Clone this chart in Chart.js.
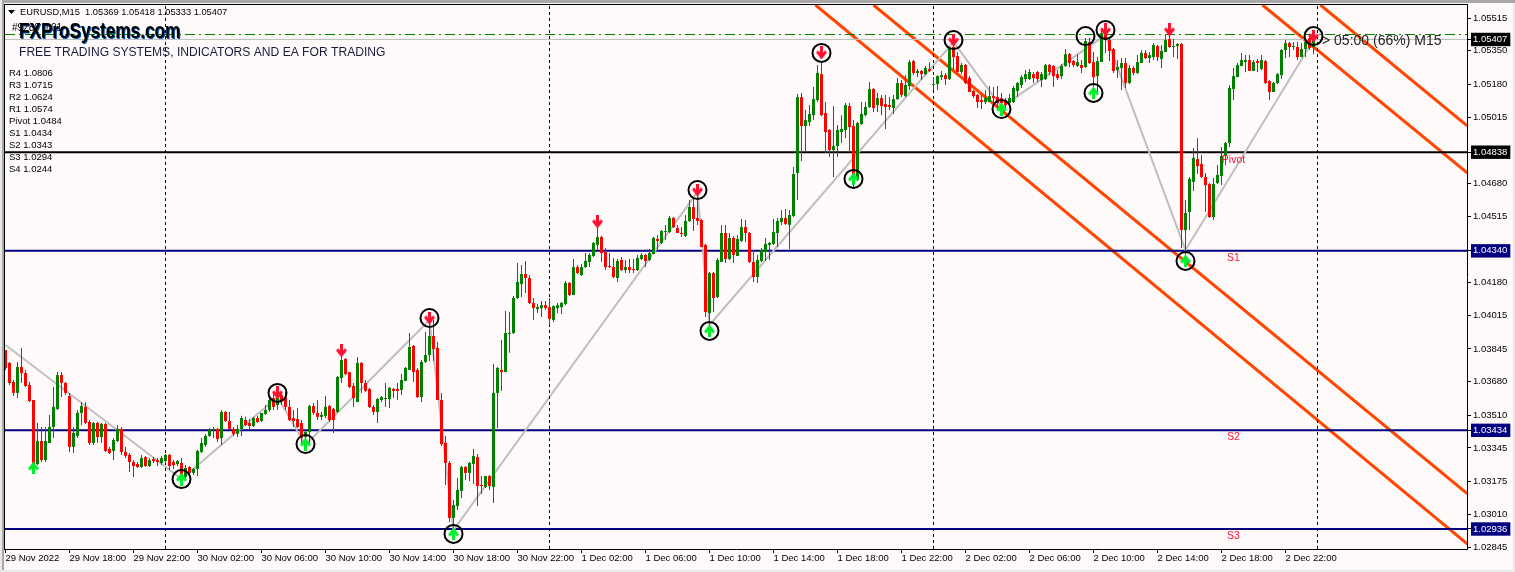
<!DOCTYPE html>
<html>
<head>
<meta charset="utf-8">
<title>EURUSD M15</title>
<script src="https://cdn.jsdelivr.net/npm/chart.js@4/dist/chart.umd.min.js"></script>
<style>
    html, body { margin: 0; padding: 0; background: #FFFAFA; overflow: hidden; }
    canvas { display: block; }
</style>
</head>
<body>
<canvas id="chart" width="1515" height="572"></canvas>
<script>
// Candles, 16 bars (4 hours) per row
const opens = [
1.03840,1.03774,1.03678,1.03623,1.03754,1.03723,1.03663,1.03587,1.03264,1.03380,1.03284,1.03370,1.03451,1.03542,1.03713,1.03673,
1.03607,1.03350,1.03406,1.03522,1.03552,1.03476,1.03370,1.03471,1.03400,1.03466,1.03340,1.03330,1.03380,1.03441,1.03325,1.03310,
1.03274,1.03264,1.03249,1.03299,1.03254,1.03289,1.03284,1.03269,1.03279,1.03310,1.03274,1.03264,1.03269,1.03198,1.03249,1.03219,
1.03239,1.03325,1.03360,1.03406,1.03436,1.03441,1.03395,1.03527,1.03481,1.03441,1.03416,1.03441,1.03486,1.03471,1.03456,1.03496,
1.03481,1.03517,1.03537,1.03597,1.03562,1.03612,1.03602,1.03552,1.03496,1.03491,1.03471,1.03400,1.03426,1.03557,1.03522,1.03502,
1.03507,1.03557,1.03542,1.03527,1.03698,1.03794,1.03728,1.03658,1.03577,1.03774,1.03673,1.03643,1.03552,1.03527,1.03587,1.03592,
1.03592,1.03643,1.03643,1.03638,1.03683,1.03739,1.03860,1.03739,1.03602,1.03779,1.03814,1.03910,1.03850,1.03587,1.03370,1.03269,
1.02992,1.03052,1.03128,1.03249,1.03219,1.03264,1.03299,1.03158,1.03148,1.03203,1.03148,1.03623,1.03739,1.03728,1.03920,1.03925,
1.04102,1.04173,1.04223,1.04203,1.04077,1.04046,1.04051,1.04066,1.04056,1.03991,1.04051,1.04056,1.04072,1.04178,1.04117,1.04258,
1.04218,1.04258,1.04284,1.04314,1.04370,1.04410,1.04334,1.04263,1.04258,1.04203,1.04294,1.04243,1.04258,1.04248,1.04243,1.04299,
1.04319,1.04294,1.04324,1.04400,1.04380,1.04435,1.04435,1.04506,1.04455,1.04430,1.04415,1.04491,1.04561,1.04506,1.04496,1.04370,
1.04026,1.04228,1.04107,1.04284,1.04430,1.04299,1.04405,1.04314,1.04390,1.04460,1.04430,1.04284,1.04208,1.04289,1.04334,1.04370,
1.04375,1.04430,1.04486,1.04506,1.04471,1.04516,1.04733,1.05116,1.04970,1.04990,1.05025,1.05101,1.05232,1.05036,1.04950,1.04849,
1.04869,1.04940,1.04950,1.05071,1.04970,1.04698,1.04980,1.05025,1.05066,1.05157,1.05076,1.05111,1.05081,1.05076,1.05061,1.05106,
1.05187,1.05121,1.05172,1.05298,1.05238,1.05248,1.05232,1.05258,1.05177,1.05182,1.05217,1.05227,1.05207,1.05369,1.05323,1.05243,
1.05278,1.05212,1.05147,1.05127,1.05101,1.05091,1.05091,1.05121,1.05116,1.05111,1.05101,1.05086,1.05091,1.05147,1.05177,1.05207,
1.05207,1.05232,1.05243,1.05202,1.05207,1.05278,1.05273,1.05232,1.05222,1.05273,1.05333,1.05298,1.05273,1.05278,1.05268,1.05394,
1.05293,1.05222,1.05293,1.05439,1.05404,1.05359,1.05253,1.05263,1.05288,1.05187,1.05263,1.05238,1.05288,1.05339,1.05313,1.05318,
1.05374,1.05308,1.05344,1.05409,1.05369,1.05374,1.05384,1.04445,1.04536,1.04688,1.04803,1.04778,1.04713,1.04677,1.04511,1.04682,
1.04718,1.04819,1.04884,1.05157,1.05217,1.05273,1.05293,1.05303,1.05248,1.05298,1.05258,1.05298,1.05197,1.05142,1.05187,1.05227,
1.05354,1.05389,1.05369,1.05369,1.05318,1.05359,1.05414,1.05369
];
const closes = [
1.03749,1.03673,1.03623,1.03754,1.03723,1.03658,1.03582,1.03259,1.03380,1.03284,1.03380,1.03451,1.03552,1.03713,1.03673,1.03623,
1.03350,1.03421,1.03522,1.03557,1.03471,1.03370,1.03471,1.03400,1.03466,1.03330,1.03320,1.03385,1.03441,1.03325,1.03305,1.03274,
1.03254,1.03249,1.03294,1.03254,1.03284,1.03279,1.03274,1.03294,1.03310,1.03254,1.03259,1.03279,1.03193,1.03244,1.03219,1.03239,
1.03330,1.03370,1.03406,1.03436,1.03441,1.03390,1.03527,1.03481,1.03441,1.03416,1.03441,1.03496,1.03461,1.03456,1.03496,1.03476,
1.03522,1.03537,1.03587,1.03552,1.03597,1.03582,1.03552,1.03486,1.03481,1.03451,1.03395,1.03426,1.03557,1.03522,1.03502,1.03512,
1.03552,1.03486,1.03486,1.03703,1.03789,1.03718,1.03653,1.03597,1.03774,1.03673,1.03633,1.03552,1.03527,1.03592,1.03602,1.03597,
1.03648,1.03633,1.03633,1.03688,1.03749,1.03855,1.03728,1.03602,1.03779,1.03814,1.03910,1.03845,1.03587,1.03365,1.03269,1.02992,
1.03057,1.03133,1.03249,1.03219,1.03269,1.03305,1.03153,1.03153,1.03203,1.03153,1.03623,1.03749,1.03728,1.03925,1.03925,1.04102,
1.04183,1.04223,1.04203,1.04077,1.04051,1.04056,1.04066,1.04051,1.03996,1.04061,1.04066,1.04077,1.04178,1.04117,1.04258,1.04228,
1.04258,1.04289,1.04319,1.04380,1.04410,1.04329,1.04258,1.04258,1.04208,1.04289,1.04243,1.04258,1.04243,1.04243,1.04304,1.04319,
1.04289,1.04329,1.04405,1.04390,1.04440,1.04440,1.04506,1.04460,1.04430,1.04425,1.04491,1.04561,1.04501,1.04491,1.04359,1.04031,
1.04228,1.04102,1.04294,1.04430,1.04299,1.04405,1.04319,1.04400,1.04460,1.04430,1.04284,1.04208,1.04294,1.04344,1.04375,1.04380,
1.04435,1.04491,1.04506,1.04476,1.04521,1.04728,1.05116,1.04970,1.05000,1.05031,1.05106,1.05238,1.05025,1.04940,1.04849,1.04869,
1.04950,1.04955,1.05076,1.04965,1.04708,1.04985,1.05031,1.05066,1.05157,1.05061,1.05111,1.05071,1.05066,1.05066,1.05106,1.05187,
1.05127,1.05177,1.05293,1.05238,1.05248,1.05232,1.05263,1.05248,1.05182,1.05222,1.05227,1.05207,1.05364,1.05318,1.05243,1.05278,
1.05187,1.05142,1.05121,1.05091,1.05091,1.05111,1.05121,1.05111,1.05086,1.05086,1.05076,1.05111,1.05162,1.05187,1.05217,1.05232,
1.05243,1.05212,1.05207,1.05232,1.05278,1.05243,1.05222,1.05212,1.05273,1.05333,1.05288,1.05278,1.05293,1.05263,1.05399,1.05288,
1.05217,1.05298,1.05439,1.05404,1.05349,1.05248,1.05268,1.05288,1.05187,1.05263,1.05238,1.05293,1.05339,1.05313,1.05328,1.05379,
1.05318,1.05349,1.05404,1.05369,1.05374,1.05384,1.04445,1.04531,1.04703,1.04809,1.04768,1.04713,1.04672,1.04511,1.04677,1.04723,
1.04819,1.04884,1.05162,1.05222,1.05278,1.05303,1.05303,1.05248,1.05293,1.05288,1.05303,1.05187,1.05142,1.05187,1.05232,1.05354,
1.05389,1.05369,1.05374,1.05318,1.05359,1.05394,1.05364,1.05407
];
const highs = [
1.03840,1.03779,1.03688,1.03779,1.03850,1.03739,1.03678,1.03587,1.03471,1.03451,1.03451,1.03512,1.03653,1.03728,1.03728,1.03678,
1.03623,1.03451,1.03537,1.03577,1.03577,1.03486,1.03476,1.03476,1.03471,1.03471,1.03350,1.03395,1.03461,1.03451,1.03350,1.03320,
1.03284,1.03274,1.03310,1.03305,1.03294,1.03299,1.03294,1.03305,1.03315,1.03315,1.03284,1.03284,1.03294,1.03259,1.03254,1.03244,
1.03335,1.03395,1.03416,1.03446,1.03451,1.03446,1.03537,1.03532,1.03527,1.03451,1.03461,1.03507,1.03502,1.03491,1.03502,1.03507,
1.03522,1.03562,1.03597,1.03623,1.03623,1.03623,1.03628,1.03587,1.03537,1.03547,1.03486,1.03436,1.03562,1.03572,1.03587,1.03527,
1.03607,1.03562,1.03547,1.03708,1.03814,1.03799,1.03728,1.03673,1.03804,1.03779,1.03688,1.03648,1.03562,1.03597,1.03607,1.03673,
1.03653,1.03648,1.03673,1.03718,1.03754,1.03925,1.03865,1.03749,1.03789,1.03930,1.03981,1.03991,1.03880,1.03623,1.03406,1.03279,
1.03082,1.03193,1.03254,1.03254,1.03274,1.03340,1.03315,1.03203,1.03203,1.03208,1.03769,1.03754,1.03890,1.04036,1.04031,1.04112,
1.04279,1.04269,1.04289,1.04218,1.04102,1.04072,1.04087,1.04087,1.04102,1.04066,1.04077,1.04082,1.04188,1.04183,1.04299,1.04269,
1.04274,1.04329,1.04329,1.04385,1.04460,1.04415,1.04354,1.04329,1.04304,1.04299,1.04309,1.04294,1.04299,1.04299,1.04319,1.04329,
1.04324,1.04349,1.04410,1.04420,1.04445,1.04471,1.04516,1.04511,1.04471,1.04460,1.04521,1.04597,1.04607,1.04632,1.04501,1.04375,
1.04233,1.04233,1.04304,1.04471,1.04471,1.04430,1.04415,1.04420,1.04501,1.04496,1.04435,1.04344,1.04319,1.04354,1.04405,1.04385,
1.04501,1.04506,1.04546,1.04551,1.04546,1.04763,1.05132,1.05137,1.05051,1.05076,1.05167,1.05278,1.05293,1.05091,1.04955,1.05071,
1.04975,1.05025,1.05086,1.05086,1.05000,1.04990,1.05091,1.05091,1.05192,1.05162,1.05137,1.05127,1.05127,1.05116,1.05127,1.05212,
1.05202,1.05227,1.05303,1.05303,1.05258,1.05253,1.05273,1.05293,1.05217,1.05227,1.05248,1.05238,1.05369,1.05404,1.05344,1.05288,
1.05283,1.05222,1.05152,1.05132,1.05127,1.05152,1.05172,1.05167,1.05172,1.05137,1.05111,1.05132,1.05172,1.05192,1.05227,1.05253,
1.05258,1.05243,1.05248,1.05243,1.05283,1.05283,1.05278,1.05253,1.05283,1.05359,1.05339,1.05303,1.05333,1.05303,1.05414,1.05414,
1.05344,1.05318,1.05455,1.05470,1.05409,1.05364,1.05303,1.05313,1.05313,1.05278,1.05273,1.05328,1.05354,1.05354,1.05344,1.05389,
1.05379,1.05379,1.05429,1.05429,1.05409,1.05389,1.05389,1.04597,1.04713,1.04859,1.04909,1.04824,1.04733,1.04682,1.04708,1.04773,
1.04864,1.04889,1.05177,1.05263,1.05288,1.05339,1.05328,1.05328,1.05303,1.05308,1.05328,1.05303,1.05202,1.05192,1.05238,1.05359,
1.05404,1.05394,1.05394,1.05394,1.05389,1.05414,1.05419,1.05418
];
const lows = [
1.03739,1.03663,1.03607,1.03597,1.03673,1.03653,1.03577,1.03234,1.03259,1.03274,1.03274,1.03370,1.03395,1.03537,1.03602,1.03612,
1.03325,1.03320,1.03395,1.03461,1.03466,1.03360,1.03360,1.03370,1.03370,1.03325,1.03315,1.03284,1.03375,1.03310,1.03294,1.03224,
1.03198,1.03244,1.03244,1.03249,1.03249,1.03269,1.03254,1.03259,1.03269,1.03234,1.03239,1.03254,1.03158,1.03193,1.03208,1.03208,
1.03203,1.03320,1.03350,1.03400,1.03395,1.03375,1.03360,1.03476,1.03436,1.03406,1.03400,1.03406,1.03456,1.03436,1.03451,1.03471,
1.03476,1.03512,1.03527,1.03537,1.03537,1.03562,1.03537,1.03481,1.03451,1.03446,1.03360,1.03360,1.03360,1.03512,1.03486,1.03486,
1.03496,1.03476,1.03421,1.03522,1.03673,1.03713,1.03648,1.03552,1.03577,1.03623,1.03628,1.03547,1.03512,1.03471,1.03577,1.03552,
1.03547,1.03597,1.03587,1.03612,1.03683,1.03739,1.03678,1.03597,1.03577,1.03774,1.03784,1.03784,1.03587,1.03355,1.03158,1.02971,
1.02931,1.03032,1.03093,1.03183,1.03178,1.03163,1.03052,1.03113,1.03143,1.03133,1.03067,1.03446,1.03633,1.03728,1.03825,1.03920,
1.04097,1.04107,1.04127,1.04072,1.03991,1.04026,1.04006,1.04041,1.03966,1.03981,1.04026,1.04021,1.04066,1.04112,1.04117,1.04223,
1.04213,1.04253,1.04258,1.04309,1.04344,1.04284,1.04243,1.04253,1.04203,1.04183,1.04238,1.04228,1.04228,1.04228,1.04238,1.04294,
1.04258,1.04289,1.04324,1.04334,1.04375,1.04395,1.04430,1.04455,1.04430,1.04410,1.04410,1.04486,1.04440,1.04471,1.04359,1.04006,
1.03941,1.04031,1.04102,1.04284,1.04279,1.04294,1.04279,1.04314,1.04385,1.04385,1.04279,1.04183,1.04178,1.04284,1.04289,1.04294,
1.04370,1.04359,1.04471,1.04471,1.04349,1.04511,1.04597,1.04793,1.04839,1.04970,1.05000,1.05091,1.05020,1.04834,1.04814,1.04713,
1.04814,1.04884,1.04909,1.04839,1.04657,1.04693,1.04975,1.05020,1.05061,1.05041,1.05041,1.05025,1.04955,1.05051,1.05031,1.05101,
1.05116,1.05116,1.05152,1.05227,1.05217,1.05202,1.05227,1.05243,1.05152,1.05152,1.05202,1.05177,1.05202,1.05253,1.05238,1.05232,
1.05182,1.05142,1.05111,1.05061,1.05056,1.05081,1.05091,1.05076,1.05061,1.05046,1.05061,1.05061,1.05086,1.05116,1.05162,1.05192,
1.05202,1.05187,1.05192,1.05167,1.05202,1.05227,1.05167,1.05202,1.05207,1.05268,1.05268,1.05268,1.05268,1.05238,1.05263,1.05283,
1.05167,1.05142,1.05293,1.05339,1.05298,1.05238,1.05212,1.05152,1.05162,1.05182,1.05227,1.05232,1.05288,1.05308,1.05288,1.05303,
1.05298,1.05263,1.05344,1.05364,1.05318,1.05308,1.04354,1.04294,1.04445,1.04642,1.04728,1.04708,1.04536,1.04506,1.04496,1.04677,
1.04672,1.04773,1.04864,1.05101,1.05217,1.05273,1.05243,1.05248,1.05248,1.05243,1.05253,1.05182,1.05101,1.05142,1.05182,1.05207,
1.05313,1.05318,1.05354,1.05303,1.05318,1.05318,1.05354,1.05333
];

// Time axis: one label every 16 bars
const timeLabels = [
    '29 Nov 2022', '29 Nov 18:00', '29 Nov 22:00',
    '30 Nov 02:00', '30 Nov 06:00', '30 Nov 10:00', '30 Nov 14:00', '30 Nov 18:00', '30 Nov 22:00',
    '1 Dec 02:00', '1 Dec 06:00', '1 Dec 10:00', '1 Dec 14:00', '1 Dec 18:00', '1 Dec 22:00',
    '2 Dec 02:00', '2 Dec 06:00', '2 Dec 10:00', '2 Dec 14:00', '2 Dec 18:00', '2 Dec 22:00'
];
const barsPerLabel = 16;

// Price axis
const priceTicks = [1.05515, 1.05350, 1.05180, 1.05015, 1.04680, 1.04515, 1.04180, 1.04015, 1.03845, 1.03680, 1.03510, 1.03345, 1.03175, 1.03010, 1.02845];
const lastPrice = 1.05407;
const pivotLevel = 1.04838;
const supportLevels = [1.04340, 1.03434, 1.02936];
const askLevel = 1.05432;

// Period separators
const separatorBars = [40, 136, 232, 328];

// ZigZag
const zigzagBars = [0, 44, 68, 75, 106, 112, 173, 176, 237, 249, 275, 295, 327];
const zigzagPrices = [1.03865, 1.03188, 1.03602, 1.03360, 1.03991, 1.02931, 1.04637, 1.03966, 1.05394, 1.05066, 1.05429, 1.04344, 1.05404];

// Channel lines: start and end of each
const channelBars = [[202.5, 365.5], [217, 365.5], [314.25, 365.5], [328.75, 365.5]];
const channelPrices = [[1.05581, 1.02860], [1.05581, 1.03113], [1.05581, 1.04733], [1.05581, 1.04970]];

// Signals
const downArrowBars = [68, 84, 106, 148, 173, 204, 237, 275, 291, 327];
const downArrowPrices = [1.03623, 1.03835, 1.04001, 1.04486, 1.04647, 1.05339, 1.05404, 1.05455, 1.05455, 1.05424];
const upArrowBars = [7, 44, 75, 112, 176, 212, 249, 272, 295];
const upArrowPrices = [1.03244, 1.03188, 1.03365, 1.02911, 1.03936, 1.04703, 1.05056, 1.05137, 1.04289];
const ringBars = [44, 68, 75, 106, 112, 173, 176, 204, 212, 237, 249, 270, 272, 275, 295, 327];
const ringPrices = [1.03188, 1.03623, 1.03365, 1.04001, 1.02911, 1.04647, 1.03936, 1.05339, 1.04703, 1.05404, 1.05056, 1.05424, 1.05137, 1.05455, 1.04289, 1.05424];

// Labels on the levels
const levelNames = ['Pivot', 'S1', 'S2', 'S3'];
const levelNameBars = [307, 307, 307, 307];
const levelNamePrices = [1.04798, 1.04304, 1.03401, 1.02901];

// Corner texts
const pivotTable = ['R4 1.0806', 'R3 1.0715', 'R2 1.0624', 'R1 1.0574', 'Pivot 1.0484', 'S1 1.0434', 'S2 1.0343', 'S3 1.0294', 'S4 1.0244'];
const quoteText = 'EURUSD,M15  1.05369 1.05418 1.05333 1.05407';
const tradeText = '#9280 0.01';
const logoText = 'FXProSystems.com';
const sloganText = 'FREE TRADING SYSTEMS, INDICATORS AND EA FOR TRADING';
const timerText = '> 05:00 (66%) M15';

const RED = '#FF0000';
const GREEN = '#008000';
const SNOW = '#FFFAFA';
const NAVY = '#000080';
const ORANGE = '#FF4500';
const SIGNAL_RED = '#FF1030';
const SIGNAL_GREEN = '#00F030';
const UI_FONT = '"Liberation Sans"';

const yMin = 1.02835;
const yMax = 1.05581;
const xMin = -0.125;
const xMax = 365.375;

const barColors = opens.map((open, i) => (closes[i] < open ? RED : GREEN));

/**
 * Small arrow glyph used as a point style
 */
function makeArrow(color, pointsDown) {
    const c = document.createElement('canvas');
    c.width = 11;
    c.height = 13;
    const ctx = c.getContext('2d');
    if (!pointsDown) {
        ctx.translate(0, 13);
        ctx.scale(1, -1);
    }
    ctx.fillStyle = color;
    ctx.beginPath();
    ctx.moveTo(4, 0);
    ctx.lineTo(7, 0);
    ctx.lineTo(7, 6);
    ctx.lineTo(9, 4);
    ctx.lineTo(11, 6);
    ctx.lineTo(5.5, 13);
    ctx.lineTo(0, 6);
    ctx.lineTo(2, 4);
    ctx.lineTo(4, 6);
    ctx.closePath();
    ctx.fill();
    return c;
}

function pairs(bars, prices) {
    return bars.map((bar, i) => ({ x: bar, y: prices[i] }));
}

function lineSet(points, color, width, dash) {
    return {
        type: 'line',
        data: points,
        borderColor: color,
        borderWidth: width,
        borderDash: dash || [],
        pointRadius: 0,
        tension: 0,
        order: 5
    };
}

function levelSet(price, color, width, dash) {
    return lineSet([{ x: xMin, y: price }, { x: xMax, y: price }], color, width, dash);
}

const datasets = [];

// Objects go behind the candles
separatorBars.forEach(bar => {
    datasets.push(lineSet([{ x: bar, y: yMin }, { x: bar, y: yMax }], '#000000', 1, [3, 3]));
});
datasets.push(levelSet(lastPrice, '#C0C0C0', 1));
datasets.push(levelSet(askLevel, GREEN, 1, [10, 4, 2, 4]));
datasets.push(lineSet(pairs(zigzagBars, zigzagPrices), '#BEBEBE', 2));
datasets.push(levelSet(pivotLevel, '#000000', 2));
supportLevels.forEach(level => datasets.push(levelSet(level, NAVY, 2)));
channelBars.forEach((bars, i) => {
    datasets.push(lineSet(pairs(bars, channelPrices[i]), ORANGE, 3));
});

// Candles: wick and body as two floating bar sets
datasets.push({
    type: 'bar',
    data: opens.map((open, i) => ({ x: i, y: [lows[i], highs[i]] })),
    backgroundColor: barColors,
    barThickness: 1,
    grouped: false,
    inflateAmount: 0,
    order: 4
});
datasets.push({
    type: 'bar',
    data: opens.map((open, i) => ({ x: i, y: [open, closes[i]] })),
    backgroundColor: barColors,
    barThickness: 3,
    minBarLength: 1,
    grouped: false,
    inflateAmount: 0,
    order: 3
});

// Signal markers
datasets.push({
    type: 'line',
    data: pairs(downArrowBars, downArrowPrices),
    showLine: false,
    pointStyle: makeArrow(SIGNAL_RED, true),
    order: 2
});
datasets.push({
    type: 'line',
    data: pairs(upArrowBars, upArrowPrices),
    showLine: false,
    pointStyle: makeArrow(SIGNAL_GREEN, false),
    order: 2
});
datasets.push({
    type: 'line',
    data: pairs(ringBars, ringPrices),
    showLine: false,
    pointStyle: 'circle',
    pointRadius: 9,
    pointBorderColor: '#000000',
    pointBorderWidth: 2,
    pointBackgroundColor: 'rgba(0,0,0,0)',
    order: 1
});

const boxColors = new Map([[lastPrice, '#000000'], [pivotLevel, '#000000']]);
supportLevels.forEach(level => boxColors.set(level, NAVY));

// Window frame and plot background
const backgroundPlugin = {
    id: 'mtBackground',
    beforeDraw(chart) {
        const ctx = chart.ctx;
        const area = chart.chartArea;
        ctx.save();
        ctx.fillStyle = SNOW;
        ctx.fillRect(0, 0, chart.width, chart.height);
        ctx.fillStyle = '#A8A8A8';
        ctx.fillRect(0, 0, chart.width, 3);
        ctx.fillRect(2, 0, 2, chart.height);
        ctx.fillStyle = '#E8E8E8';
        ctx.fillRect(0, 0, 2, chart.height);
        ctx.fillRect(chart.width - 2, 3, 2, chart.height);
        ctx.fillRect(0, chart.height - 2, chart.width, 2);
        ctx.fillStyle = '#000000';
        ctx.fillRect(area.left - 1, area.top - 1, area.right - area.left + 2, 1);
        ctx.fillRect(area.left - 1, area.top - 1, 1, area.bottom - area.top + 2);
        ctx.restore();
    }
};

// Text printed on the chart
const textPlugin = {
    id: 'mtTexts',
    afterDraw(chart) {
        const ctx = chart.ctx;
        const x = chart.scales.x;
        const y = chart.scales.y;
        ctx.save();
        ctx.textBaseline = 'middle';
        ctx.textAlign = 'left';

        // Quote line with its little triangle
        ctx.fillStyle = '#000000';
        ctx.beginPath();
        ctx.moveTo(8, 10);
        ctx.lineTo(15, 10);
        ctx.lineTo(11.5, 14);
        ctx.closePath();
        ctx.fill();
        ctx.font = '9.3px ' + UI_FONT;
        ctx.fillText(quoteText, 20, 12.5);

        ctx.font = '10px ' + UI_FONT;
        ctx.fillText(tradeText, 12, 28);

        // Logo, condensed with a blue edge
        ctx.save();
        ctx.shadowColor = '#0050B0';
        ctx.shadowOffsetX = 1;
        ctx.shadowOffsetY = 1;
        ctx.shadowBlur = 0;
        ctx.translate(19, 32);
        ctx.scale(0.78, 1);
        ctx.font = 'bold 22px ' + UI_FONT;
        ctx.fillText(logoText, 0, 0);
        ctx.restore();

        ctx.fillStyle = '#1A1A3A';
        ctx.font = '12.1px ' + UI_FONT;
        ctx.fillText(sloganText, 19, 52.5);

        ctx.fillStyle = '#000000';
        ctx.font = '9.5px ' + UI_FONT;
        pivotTable.forEach((row, i) => {
            ctx.fillText(row, 9, 73.5 + i * 12);
        });

        ctx.fillStyle = '#222222';
        ctx.font = '14px ' + UI_FONT;
        ctx.fillText(timerText, 1322, 41);

        ctx.fillStyle = SIGNAL_RED;
        ctx.font = '10.5px ' + UI_FONT;
        ctx.textAlign = 'center';
        levelNames.forEach((name, i) => {
            ctx.fillText(name, x.getPixelForValue(levelNameBars[i]), y.getPixelForValue(levelNamePrices[i]));
        });
        ctx.restore();
    }
};

new Chart(document.getElementById('chart'), {
    type: 'bar',
    data: { datasets },
    plugins: [backgroundPlugin, textPlugin],
    options: {
        responsive: false,
        animation: false,
        events: [],
        layout: { autoPadding: false, padding: { left: 5, top: 5 } },
        plugins: { legend: { display: false }, tooltip: { enabled: false } },
        scales: {
            x: {
                type: 'linear',
                offset: false,
                min: xMin,
                max: xMax,
                grid: { offset: false, drawOnChartArea: false, drawTicks: true, tickLength: 4, tickColor: '#000000' },
                border: { display: true, color: '#000000', width: 1 },
                afterBuildTicks(scale) {
                    scale.ticks = timeLabels.map((label, i) => ({ value: i * barsPerLabel }));
                },
                afterFit(scale) {
                    scale.height = 23;
                    scale.paddingLeft = 0;
                    scale.paddingRight = 0;
                },
                ticks: {
                    autoSkip: false,
                    maxRotation: 0,
                    minRotation: 0,
                    align: 'start',
                    padding: 0,
                    color: '#000000',
                    font: { family: UI_FONT, size: 9.5 },
                    callback(value, index) {
                        return timeLabels[index];
                    }
                }
            },
            y: {
                type: 'linear',
                position: 'right',
                min: yMin,
                max: yMax,
                grid: { drawOnChartArea: false, drawTicks: true, tickLength: 4, tickColor: '#000000' },
                border: { display: true, color: '#000000', width: 1 },
                afterBuildTicks(scale) {
                    const values = priceTicks.concat([lastPrice, pivotLevel], supportLevels);
                    scale.ticks = values.sort((a, b) => b - a).map(value => ({ value }));
                },
                afterFit(scale) {
                    scale.width = 48;
                    scale.paddingTop = 0;
                    scale.paddingBottom = 0;
                },
                ticks: {
                    autoSkip: false,
                    padding: 2,
                    font: { family: UI_FONT, size: 9.5 },
                    color: ctx => (boxColors.has(ctx.tick.value) ? '#FFFFFF' : '#000000'),
                    showLabelBackdrop: ctx => boxColors.has(ctx.tick.value),
                    backdropColor: ctx => boxColors.get(ctx.tick.value) || SNOW,
                    backdropPadding: { top: 1, bottom: 1, left: 2, right: 3 },
                    callback(value) {
                        return value.toFixed(5);
                    }
                }
            }
        }
    }
});
</script>
</body>
</html>
